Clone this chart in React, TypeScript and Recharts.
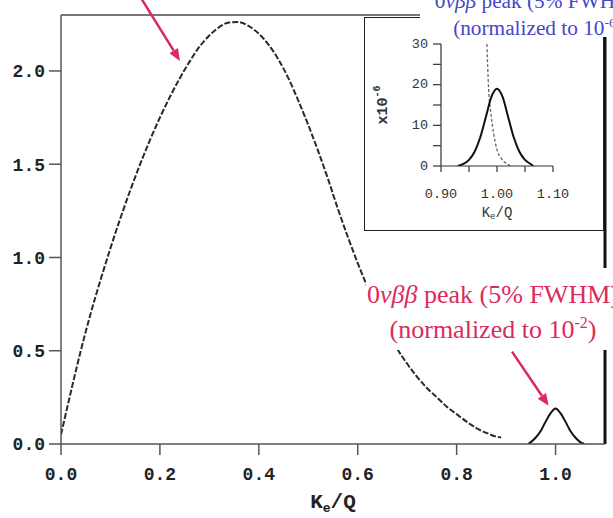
import React from 'react';
import { LineChart, Line, XAxis, YAxis, ReferenceLine, Label } from 'recharts';

// 2-neutrino sum-energy spectrum (main panel)
const spectrumX = [0, 0.02, 0.04, 0.06, 0.08, 0.1, 0.12, 0.14, 0.16, 0.18, 0.2, 0.22, 0.24, 0.26, 0.28, 0.3, 0.32, 0.34, 0.36, 0.38, 0.4, 0.42, 0.44, 0.46, 0.48, 0.5, 0.52, 0.54, 0.56, 0.58, 0.6, 0.62, 0.64, 0.66, 0.68, 0.7, 0.72, 0.74, 0.76, 0.78, 0.8, 0.82, 0.84, 0.86, 0.88, 0.89];
const spectrumY = [0.05, 0.28, 0.5, 0.7, 0.88, 1.05, 1.21, 1.36, 1.5, 1.63, 1.75, 1.86, 1.96, 2.05, 2.13, 2.19, 2.235, 2.26, 2.262, 2.24, 2.2, 2.14, 2.06, 1.96, 1.84, 1.71, 1.57, 1.42, 1.26, 1.11, 0.97, 0.84, 0.72, 0.61, 0.51, 0.43, 0.36, 0.3, 0.25, 0.2, 0.16, 0.12, 0.085, 0.06, 0.04, 0.035];

// 0v peak, normalized to 1e-2 (main panel)
const peakX = [0.945, 0.95, 0.96, 0.97, 0.98, 0.99, 1.0, 1.01, 1.02, 1.03, 1.04, 1.05, 1.058];
const peakY = [0, 0.01, 0.035, 0.07, 0.12, 0.165, 0.19, 0.165, 0.12, 0.07, 0.035, 0.01, 0];

// inset: 0v peak (x1e-6) and tail of 2v spectrum
const insetPeakX = [0.93, 0.94, 0.95, 0.96, 0.97, 0.98, 0.99, 1.0, 1.01, 1.02, 1.03, 1.04, 1.05, 1.06, 1.065];
const insetPeakY = [0, 0.5, 1.5, 3.5, 7, 12, 17, 19, 17, 12, 7, 3.5, 1.5, 0.5, 0];
const insetTailX = [0.982, 0.985, 0.989, 0.994, 1.0, 1.008, 1.018, 1.025];
const insetTailY = [30, 19, 13, 8, 4, 1.8, 0.5, 0];

const mainXTicks = [0, 0.2, 0.4, 0.6, 0.8, 1.0];
const mainYTicks = [0, 0.5, 1.0, 1.5, 2.0];
const insetXTicks = [0.9, 0.95, 1.0, 1.05, 1.1];
const insetYTicks = [0, 5, 10, 15, 20, 25, 30];

const zip = (xs: number[], ys: number[]) => xs.map((x, i) => ({ x, y: ys[i] }));
const spectrumData = zip(spectrumX, spectrumY);
const peakData = zip(peakX, peakY);
const insetPeakData = zip(insetPeakX, insetPeakY);
const insetTailData = zip(insetTailX, insetTailY);

const RED = '#dc2a5c';
const BLUE = '#4646c8';
const MONO = '"Liberation Mono", "DejaVu Sans Mono", monospace';
const SERIF = '"Liberation Serif", "DejaVu Serif", serif';

const arrowShape = (color: string) => (props: any) => {
  const { x1, y1, x2, y2 } = props;
  const a = Math.atan2(y2 - y1, x2 - x1);
  const len = 12;
  const w = 5;
  const bx = x2 - len * Math.cos(a);
  const by = y2 - len * Math.sin(a);
  const p1 = `${bx + w * Math.sin(a)},${by - w * Math.cos(a)}`;
  const p2 = `${bx - w * Math.sin(a)},${by + w * Math.cos(a)}`;
  return (
    <g>
      <line x1={x1} y1={y1} x2={bx} y2={by} stroke={color} strokeWidth={2.5} />
      <polygon points={`${x2},${y2} ${p1} ${p2}`} fill={color} />
    </g>
  );
};

const isMajor = (v: number, step: number) => Math.abs(v / step - Math.round(v / step)) < 1e-6;

const InsetYTick = (props: any) => {
  const { x, y, payload } = props;
  if (!isMajor(payload.value, 10)) return <g />;
  return (
    <text x={x} y={y} textAnchor="end" dominantBaseline="central" fontFamily={MONO} fontSize={13.5} fill="#333">
      {payload.value}
    </text>
  );
};

const InsetXTick = (props: any) => {
  const { x, y, payload } = props;
  if (!isMajor(payload.value, 0.1)) return <g />;
  return (
    <text x={x} y={y} dy="0.71em" textAnchor="middle" fontFamily={MONO} fontSize={13.5} fill="#333">
      {payload.value.toFixed(2)}
    </text>
  );
};

export default function App() {
  return (
    <div style={{ position: 'absolute', left: 0, top: 0, width: 613, height: 518, overflow: 'hidden', background: '#fff' }}>
      <LineChart width={613} height={518} margin={{ top: 15, right: 8, bottom: 0, left: 0 }}>
        <XAxis
          type="number"
          dataKey="x"
          domain={[0, 1.1]}
          ticks={mainXTicks}
          interval={0}
          allowDataOverflow
          height={74}
          tickSize={11}
          tickMargin={12}
          stroke="#555"
          strokeWidth={1.5}
          tick={{ fontFamily: MONO, fontSize: 18, fontWeight: 'bold', fill: '#222' }}
          tickFormatter={(v: number) => v.toFixed(1)}
        >
          <Label
            content={(p: any) => {
              const vb = p.viewBox;
              return (
                <text x={vb.x + vb.width / 2} y={vb.y + 58} textAnchor="middle" dominantBaseline="central" fontFamily={MONO} fontSize={21} fontWeight="bold" fill="#222">
                  K<tspan fontSize={13} dy={6}>e</tspan><tspan dy={-6}>/Q</tspan>
                </text>
              );
            }}
          />
        </XAxis>
        <YAxis
          type="number"
          domain={[0, 2.3]}
          ticks={mainYTicks}
          interval={0}
          allowDataOverflow
          width={61}
          tickSize={12}
          tickMargin={4}
          stroke="#555"
          strokeWidth={1.5}
          tick={{ fontFamily: MONO, fontSize: 18, fontWeight: 'bold', fill: '#222' }}
          tickFormatter={(v: number) => v.toFixed(1)}
        />
        <ReferenceLine y={2.3} stroke="#777" strokeWidth={2} />
        <ReferenceLine x={1.1} stroke="#111" strokeWidth={3} />
        <Line data={spectrumData} dataKey="y" type="monotone" stroke="#2a2a2a" strokeWidth={2} strokeDasharray="6 2" dot={false} activeDot={false} isAnimationActive={false} />
        <Line data={peakData} dataKey="y" type="monotone" stroke="#111" strokeWidth={2} dot={false} activeDot={false} isAnimationActive={false} />
        <ReferenceLine segment={[{ x: 0.148, y: 2.45 }, { x: 0.2406, y: 2.054 }]} ifOverflow="visible" shape={arrowShape(RED)} />
        <ReferenceLine segment={[{ x: 0.912, y: 0.495 }, { x: 0.986, y: 0.205 }]} ifOverflow="visible" shape={arrowShape(RED)} />
      </LineChart>

      <div style={{ position: 'absolute', left: 364, top: 17, width: 240, height: 214, border: '1.5px solid #222', boxSizing: 'border-box', background: '#fff' }} />
      <div style={{ position: 'absolute', left: 364, top: 17 }}>
        <LineChart width={240} height={214} margin={{ top: 27, right: 51, bottom: 0, left: 0 }}>
          <XAxis
            type="number"
            dataKey="x"
            domain={[0.9, 1.1]}
            ticks={insetXTicks}
            interval={0}
            allowDataOverflow
            height={65}
            tickSize={6}
            tickMargin={16}
            stroke="#333"
            strokeWidth={1.2}
            tick={InsetXTick}
          >
            <Label
              content={(p: any) => {
                const vb = p.viewBox;
                return (
                  <text x={vb.x + vb.width / 2} y={vb.y + 47} textAnchor="middle" dominantBaseline="central" fontFamily={MONO} fontSize={14} fill="#333">
                    K<tspan fontSize={9} dy={4}>e</tspan><tspan dy={-4}>/Q</tspan>
                  </text>
                );
              }}
            />
          </XAxis>
          <YAxis
            type="number"
            domain={[0, 30]}
            ticks={insetYTicks}
            interval={0}
            allowDataOverflow
            width={77}
            tickSize={8}
            tickMargin={5}
            stroke="#333"
            strokeWidth={1.2}
            tick={InsetYTick}
          >
            <Label
              content={(p: any) => {
                const vb = p.viewBox;
                const cx = vb.x + 19;
                const cy = vb.y + vb.height / 2;
                return (
                  <text x={cx} y={cy} transform={`rotate(-90 ${cx} ${cy})`} textAnchor="middle" dominantBaseline="central" fontFamily={MONO} fontSize={15} fontWeight="bold" fill="#333">
                    x10<tspan fontSize={10} dy={-6}>-6</tspan>
                  </text>
                );
              }}
            />
          </YAxis>
          <Line data={insetTailData} dataKey="y" type="monotone" stroke="#666" strokeWidth={1.3} strokeDasharray="3 2" dot={false} activeDot={false} isAnimationActive={false} />
          <Line data={insetPeakData} dataKey="y" type="monotone" stroke="#111" strokeWidth={2} dot={false} activeDot={false} isAnimationActive={false} />
        </LineChart>
      </div>

      <div style={{ position: 'absolute', left: 420, top: -9, width: 236, height: 46, background: '#fff', color: BLUE, fontFamily: SERIF, fontSize: 21.3, lineHeight: '21px', textAlign: 'center', whiteSpace: 'nowrap' }}>
        <div>0<i>νββ</i> peak (5% FWHM)</div>
        <div>(normalized to 10<sup style={{ fontSize: 13.5 }}>-6</sup>)</div>
      </div>

      <div style={{ position: 'absolute', left: 366, top: 268, width: 254, height: 82, paddingTop: 13, boxSizing: 'border-box', background: '#fff', color: RED, fontFamily: SERIF, fontSize: 26, lineHeight: '28px', textAlign: 'center', whiteSpace: 'nowrap' }}>
        <div>0<i>νββ</i> peak (5% FWHM)</div>
        <div>(normalized to 10<sup style={{ fontSize: 16 }}>-2</sup>)</div>
      </div>
    </div>
  );
}
